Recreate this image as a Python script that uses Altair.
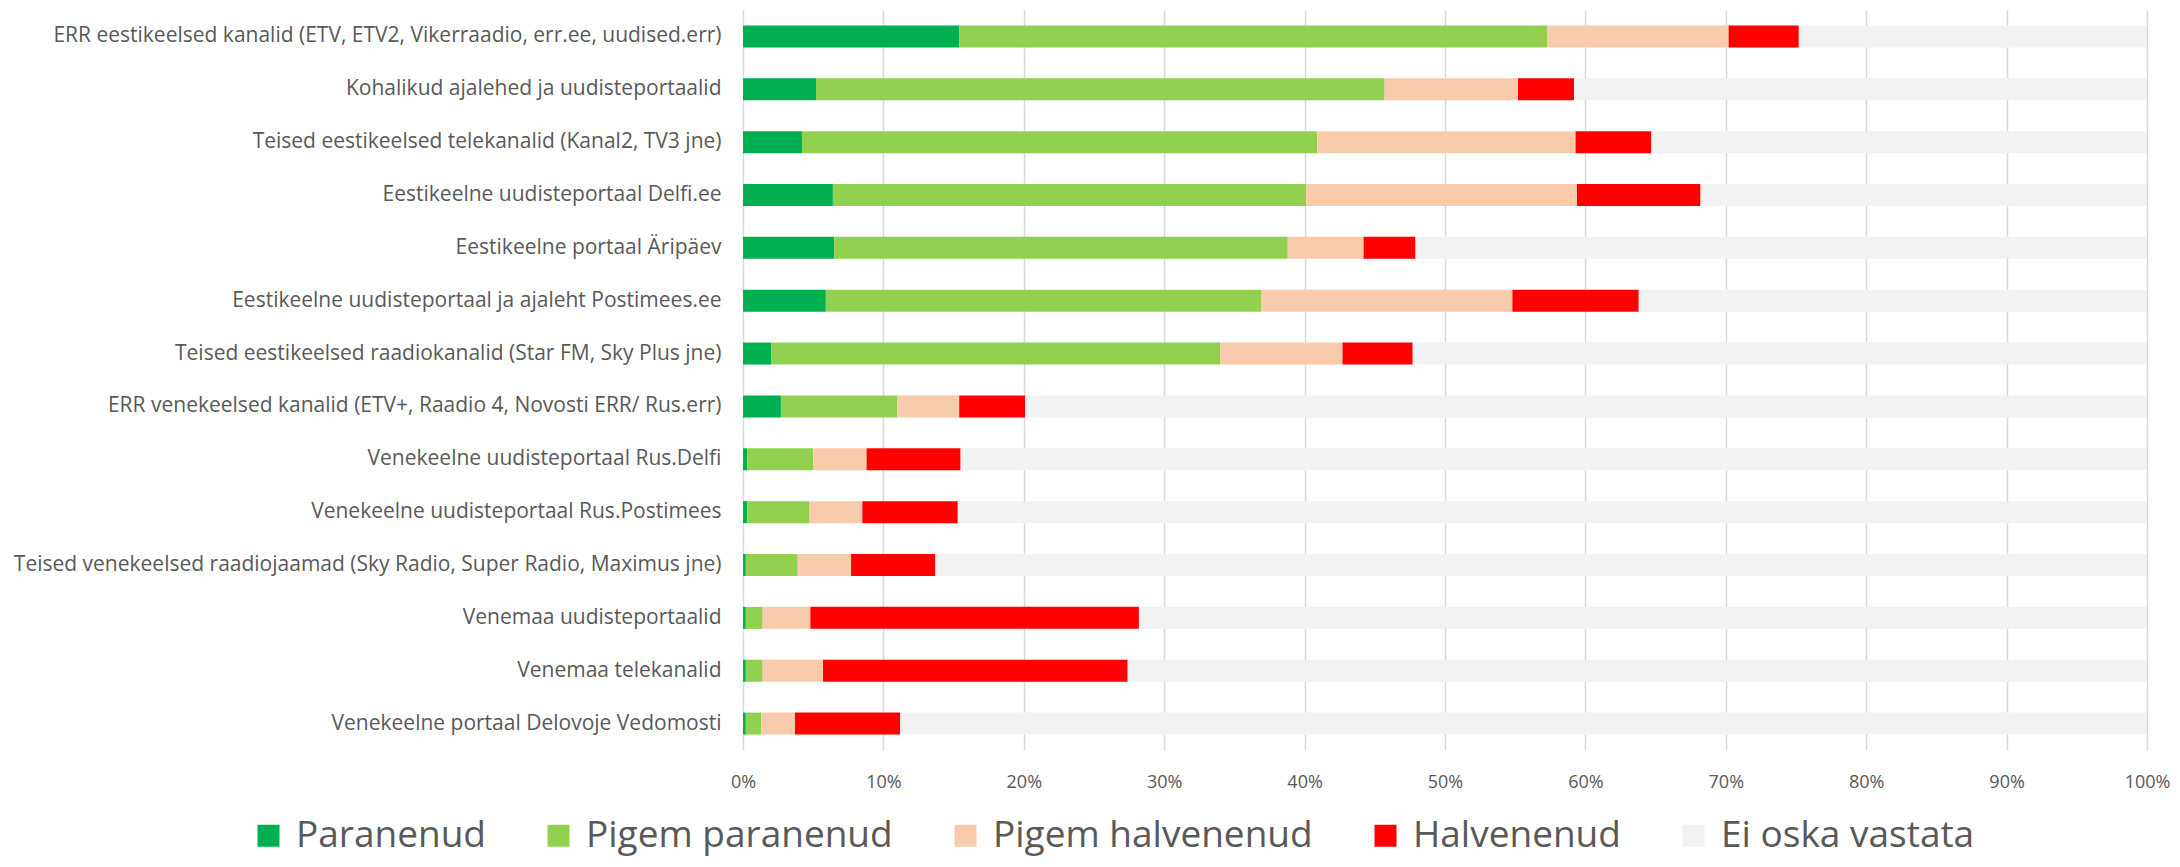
import altair as alt
import pandas as pd

categories = [
    "ERR eestikeelsed kanalid (ETV, ETV2, Vikerraadio, err.ee, uudised.err)",
    "Kohalikud ajalehed ja uudisteportaalid",
    "Teised eestikeelsed telekanalid (Kanal2, TV3 jne)",
    "Eestikeelne uudisteportaal Delfi.ee",
    "Eestikeelne portaal Äripäev",
    "Eestikeelne uudisteportaal ja ajaleht Postimees.ee",
    "Teised eestikeelsed raadiokanalid (Star FM, Sky Plus jne)",
    "ERR venekeelsed kanalid (ETV+, Raadio 4, Novosti ERR/ Rus.err)",
    "Venekeelne uudisteportaal Rus.Delfi",
    "Venekeelne uudisteportaal Rus.Postimees",
    "Teised venekeelsed raadiojaamad (Sky Radio, Super Radio, Maximus jne)",
    "Venemaa uudisteportaalid",
    "Venemaa telekanalid",
    "Venekeelne portaal Delovoje Vedomosti",
]

series_names = ["Paranenud", "Pigem paranenud", "Pigem halvenenud", "Halvenenud", "Ei oska vastata"]
series_colors = ["#00B050", "#92D050", "#F8CBAD", "#FF0000", "#F2F2F2"]

paranenud = [15.4, 5.2, 4.2, 6.4, 6.5, 5.9, 2.0, 2.7, 0.3, 0.3, 0.2, 0.2, 0.2, 0.2]
pigem_paranenud = [41.9, 40.5, 36.7, 33.7, 32.3, 31.0, 32.0, 8.3, 4.7, 4.4, 3.7, 1.2, 1.2, 1.1]
pigem_halvenenud = [12.9, 9.5, 18.4, 19.3, 5.4, 17.9, 8.7, 4.4, 3.8, 3.8, 3.8, 3.4, 4.3, 2.4]
halvenenud = [5.0, 4.0, 5.4, 8.8, 3.7, 9.0, 5.0, 4.7, 6.7, 6.8, 6.0, 23.4, 21.7, 7.5]
ei_oska = [24.8, 40.8, 35.3, 31.8, 52.1, 36.2, 52.3, 79.9, 84.5, 84.7, 86.3, 71.8, 72.6, 88.8]

tick_values = [0, 10, 20, 30, 40, 50, 60, 70, 80, 90, 100]

series_values = [paranenud, pigem_paranenud, pigem_halvenenud, halvenenud, ei_oska]
rows = []
for i, cat in enumerate(categories):
    for j, (name, vals) in enumerate(zip(series_names, series_values)):
        rows.append({"kanal": cat, "seeria": name, "vaartus": vals[i], "jrk": j})
df = pd.DataFrame(rows)

FONT = "Open Sans"
TXT = "#595959"

chart = alt.Chart(df).mark_bar(size=22).encode(
    y=alt.Y(
        "kanal:N",
        sort=categories,
        scale=alt.Scale(paddingInner=0, paddingOuter=0),
        axis=alt.Axis(
            title=None, domain=False, ticks=False, tickSize=0, labelPadding=22,
            labelFontSize=21, labelFont=FONT, labelColor=TXT, labelLimit=900,
        ),
    ),
    x=alt.X(
        "vaartus:Q",
        stack="zero",
        scale=alt.Scale(domain=[0, 100], nice=False),
        axis=alt.Axis(
            title=None, values=tick_values, labelExpr="datum.value + '%'",
            grid=True, gridColor="#D9D9D9", gridWidth=1.5, domain=False,
            ticks=False, tickSize=0, labelPadding=23, labelFontSize=18,
            labelFont=FONT, labelColor=TXT, labelFlush=False,
        ),
    ),
    color=alt.Color(
        "seeria:N",
        scale=alt.Scale(domain=series_names, range=series_colors),
        legend=alt.Legend(
            title=None, orient="none", legendX=-493, legendY=807,
            direction="horizontal", symbolType="square", symbolSize=484,
            symbolStrokeWidth=0, labelFontSize=37, labelFont=FONT,
            labelColor=TXT, labelOffset=9, columnPadding=54, padding=0,
            labelLimit=600,
        ),
    ),
    order=alt.Order("jrk:Q", sort="ascending"),
).properties(
    width=1404,
    height=740,
    autosize=alt.AutoSizeParams(type="none"),
    padding={"left": 735, "top": 2, "right": 25, "bottom": 109},
).configure_view(stroke=None)

chart.save("out.html", embed_options={"renderer": "svg", "actions": False})
